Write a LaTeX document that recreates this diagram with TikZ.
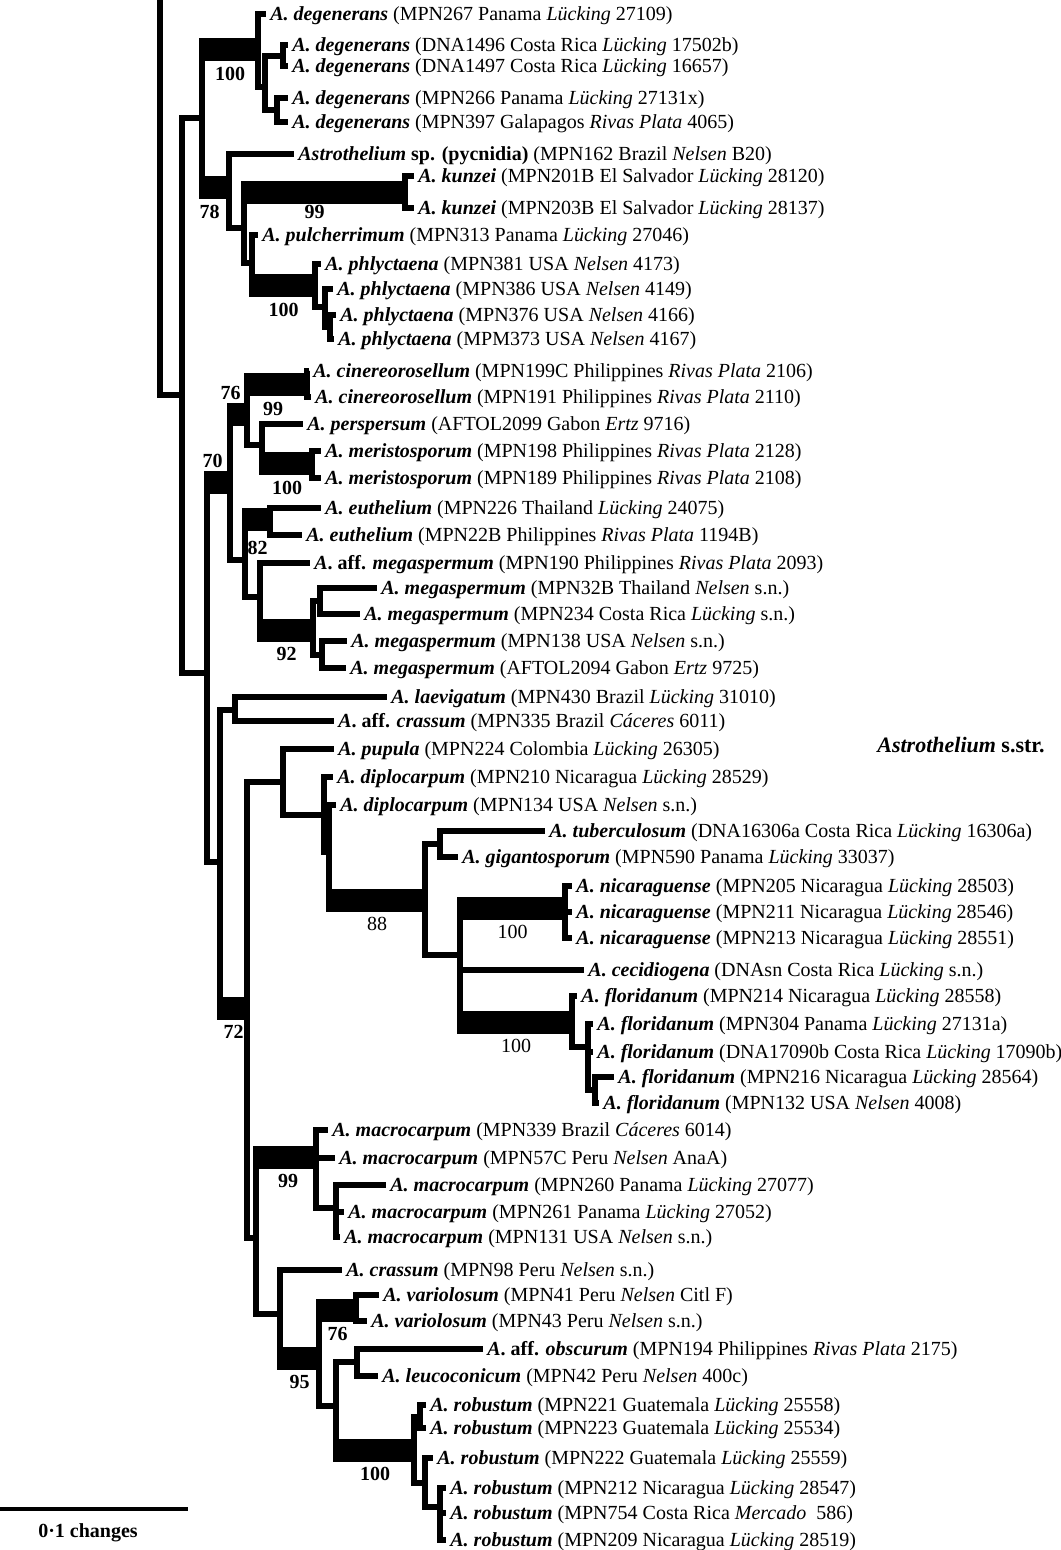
\documentclass[tikz,border=0pt]{standalone}
\usepackage{fontspec}
\setmainfont{Liberation Serif}
\usetikzlibrary{calc}

\begin{document}
\begin{tikzpicture}[x=0.5pt,y=-0.5pt]
			\newcommand{\taxn}[1]{\textbf{\textit{#1}}}
			\newcommand{\colr}[1]{\textit{#1}}
			\newcommand{\taxaff}[1]{\textbf{\textit{A}. aff. \textit{#1}}}
			\tikzset{
				br/.style={line width=2.8pt},
				bar/.style={line width=11.5pt, shorten <=-1.4pt},
				tip/.style={anchor=west, inner xsep=2pt, inner ysep=0pt, text height=0.9em, text depth=0.22em, font=\fontsize{10}{12}\selectfont},
				bs/.style={font=\bfseries\fontsize{10}{12}\selectfont, inner sep=0pt, yshift=-12pt},
				bsup/.style={bs, yshift=23pt},
				bsr/.style={bs, font=\fontsize{10}{12}\selectfont}
			}
			\useasboundingbox (0,0) rectangle (1060,1550);
			
			% inner nodes
			\coordinate (root) at (160,0);
			\coordinate (n1) at (182,395);
			\coordinate (a) at (202,118);
			\coordinate (d0) at (258,50);
			\coordinate (d1) at (265,87);
			\coordinate (d2) at (283,56);
			\coordinate (d3) at (277,110);
			\coordinate (b78) at (229,188);
			\coordinate (k) at (244,228);
			\coordinate (kz) at (405,193);
			\coordinate (p) at (252,263);
			\coordinate (ph) at (315,286);
			\coordinate (ph2) at (325,307);
			\coordinate (ph3) at (330,327);
			\coordinate (n2) at (207,673);
			\coordinate (c70) at (230,483);
			\coordinate (c76) at (247,415);
			\coordinate (cin) at (307,385);
			\coordinate (pm) at (262,445);
			\coordinate (mer) at (312,464);
			\coordinate (c82p) at (245,560);
			\coordinate (c82) at (270,520);
			\coordinate (c92p) at (260,597);
			\coordinate (c92) at (313,630);
			\coordinate (mg1) at (320,601);
			\coordinate (mg2) at (322,655);
			\coordinate (n3) at (220,862);
			\coordinate (lc) at (235,710);
			\coordinate (n4) at (247,1008);
			\coordinate (pd) at (283,782);
			\coordinate (dd1) at (324,815);
			\coordinate (dd2) at (329,852);
			\coordinate (e) at (425,900);
			\coordinate (e1) at (440,844);
			\coordinate (f) at (460,955);
			\coordinate (nic) at (565,908);
			\coordinate (fl) at (572,1022);
			\coordinate (g2) at (588,1047);
			\coordinate (g3) at (595,1090);
			\coordinate (n5) at (256,1238);
			\coordinate (m) at (316,1157);
			\coordinate (m2) at (336,1208);
			\coordinate (q) at (280,1314);
			\coordinate (r) at (319,1358);
			\coordinate (v) at (356,1310);
			\coordinate (s) at (336,1406);
			\coordinate (tt) at (357,1362);
			\coordinate (u) at (414,1450);
			\coordinate (u1) at (420,1417);
			\coordinate (u2) at (425,1483);
			\coordinate (u3) at (440,1507);
			
			% tips
			\node[tip] (t1) at (266,14) {\taxn{A. degenerans} (MPN267 Panama \colr{Lücking} 27109)};
			\node[tip] (t2) at (288,45) {\taxn{A. degenerans} (DNA1496 Costa Rica \colr{Lücking} 17502b)};
			\node[tip] (t3) at (288,66) {\taxn{A. degenerans} (DNA1497 Costa Rica \colr{Lücking} 16657)};
			\node[tip] (t4) at (288,98) {\taxn{A. degenerans} (MPN266 Panama \colr{Lücking} 27131x)};
			\node[tip] (t5) at (288,122) {\taxn{A. degenerans} (MPN397 Galapagos \colr{Rivas Plata} 4065)};
			\node[tip] (t6) at (294,154) {\textbf{\textit{Astrothelium} sp. (pycnidia)} (MPN162 Brazil \colr{Nelsen} B20)};
			\node[tip] (t7) at (414,176) {\taxn{A. kunzei} (MPN201B El Salvador \colr{Lücking} 28120)};
			\node[tip] (t8) at (414,208) {\taxn{A. kunzei} (MPN203B El Salvador \colr{Lücking} 28137)};
			\node[tip] (t9) at (258,235) {\taxn{A. pulcherrimum} (MPN313 Panama \colr{Lücking} 27046)};
			\node[tip] (t10) at (321,264) {\taxn{A. phlyctaena} (MPN381 USA \colr{Nelsen} 4173)};
			\node[tip] (t11) at (333,289) {\taxn{A. phlyctaena} (MPN386 USA \colr{Nelsen} 4149)};
			\node[tip] (t12) at (336,315) {\taxn{A. phlyctaena} (MPN376 USA \colr{Nelsen} 4166)};
			\node[tip] (t13) at (334,339) {\taxn{A. phlyctaena} (MPM373 USA \colr{Nelsen} 4167)};
			\node[tip] (t14) at (309,371) {\taxn{A. cinereorosellum} (MPN199C Philippines \colr{Rivas Plata} 2106)};
			\node[tip] (t15) at (311,397) {\taxn{A. cinereorosellum} (MPN191 Philippines \colr{Rivas Plata} 2110)};
			\node[tip] (t16) at (303,424) {\taxn{A. perspersum} (AFTOL2099 Gabon \colr{Ertz} 9716)};
			\node[tip] (t17) at (321,451) {\taxn{A. meristosporum} (MPN198 Philippines \colr{Rivas Plata} 2128)};
			\node[tip] (t18) at (321,478) {\taxn{A. meristosporum} (MPN189 Philippines \colr{Rivas Plata} 2108)};
			\node[tip] (t19) at (321,508) {\taxn{A. euthelium} (MPN226 Thailand \colr{Lücking} 24075)};
			\node[tip] (t20) at (302,535) {\taxn{A. euthelium} (MPN22B Philippines \colr{Rivas Plata} 1194B)};
			\node[tip] (t21) at (310,563) {\taxaff{megaspermum} (MPN190 Philippines \colr{Rivas Plata} 2093)};
			\node[tip] (t22) at (377,588) {\taxn{A. megaspermum} (MPN32B Thailand \colr{Nelsen} s.n.)};
			\node[tip] (t23) at (360,614) {\taxn{A. megaspermum} (MPN234 Costa Rica \colr{Lücking} s.n.)};
			\node[tip] (t24) at (347,641) {\taxn{A. megaspermum} (MPN138 USA \colr{Nelsen} s.n.)};
			\node[tip] (t25) at (346,668) {\taxn{A. megaspermum} (AFTOL2094 Gabon \colr{Ertz} 9725)};
			\node[tip] (t26) at (387,697) {\taxn{A. laevigatum} (MPN430 Brazil \colr{Lücking} 31010)};
			\node[tip] (t27) at (334,721) {\taxaff{crassum} (MPN335 Brazil \colr{Cáceres} 6011)};
			\node[tip] (t28) at (334,749) {\taxn{A. pupula} (MPN224 Colombia \colr{Lücking} 26305)};
			\node[tip] (t29) at (333,777) {\taxn{A. diplocarpum} (MPN210 Nicaragua \colr{Lücking} 28529)};
			\node[tip] (t30) at (336,805) {\taxn{A. diplocarpum} (MPN134 USA \colr{Nelsen} s.n.)};
			\node[tip] (t31) at (545,831) {\taxn{A. tuberculosum} (DNA16306a Costa Rica \colr{Lücking} 16306a)};
			\node[tip] (t32) at (458,857) {\taxn{A. gigantosporum} (MPN590 Panama \colr{Lücking} 33037)};
			\node[tip] (t33) at (572,886) {\taxn{A. nicaraguense} (MPN205 Nicaragua \colr{Lücking} 28503)};
			\node[tip] (t34) at (572,912) {\taxn{A. nicaraguense} (MPN211 Nicaragua \colr{Lücking} 28546)};
			\node[tip] (t35) at (572,938) {\taxn{A. nicaraguense} (MPN213 Nicaragua \colr{Lücking} 28551)};
			\node[tip] (t36) at (584,970) {\taxn{A. cecidiogena} (DNAsn Costa Rica \colr{Lücking} s.n.)};
			\node[tip] (t37) at (577,996) {\taxn{A. floridanum} (MPN214 Nicaragua \colr{Lücking} 28558)};
			\node[tip] (t38) at (593,1024) {\taxn{A. floridanum} (MPN304 Panama \colr{Lücking} 27131a)};
			\node[tip] (t39) at (593,1052) {\taxn{A. floridanum} (DNA17090b Costa Rica \colr{Lücking} 17090b)};
			\node[tip] (t40) at (614,1077) {\taxn{A. floridanum} (MPN216 Nicaragua \colr{Lücking} 28564)};
			\node[tip] (t41) at (599,1103) {\taxn{A. floridanum} (MPN132 USA \colr{Nelsen} 4008)};
			\node[tip] (t42) at (328,1130) {\taxn{A. macrocarpum} (MPN339 Brazil \colr{Cáceres} 6014)};
			\node[tip] (t43) at (335,1158) {\taxn{A. macrocarpum} (MPN57C Peru \colr{Nelsen} AnaA)};
			\node[tip] (t44) at (386,1185) {\taxn{A. macrocarpum} (MPN260 Panama \colr{Lücking} 27077)};
			\node[tip] (t45) at (344,1212) {\taxn{A. macrocarpum} (MPN261 Panama \colr{Lücking} 27052)};
			\node[tip] (t46) at (340,1237) {\taxn{A. macrocarpum} (MPN131 USA \colr{Nelsen} s.n.)};
			\node[tip] (t47) at (342,1270) {\taxn{A. crassum} (MPN98 Peru \colr{Nelsen} s.n.)};
			\node[tip] (t48) at (379,1295) {\taxn{A. variolosum} (MPN41 Peru \colr{Nelsen} Citl F)};
			\node[tip] (t49) at (367,1321) {\taxn{A. variolosum} (MPN43 Peru \colr{Nelsen} s.n.)};
			\node[tip] (t50) at (483,1349) {\taxaff{obscurum} (MPN194 Philippines \colr{Rivas Plata} 2175)};
			\node[tip] (t51) at (378,1376) {\taxn{A. leucoconicum} (MPN42 Peru \colr{Nelsen} 400c)};
			\node[tip] (t52) at (426,1405) {\taxn{A. robustum} (MPN221 Guatemala \colr{Lücking} 25558)};
			\node[tip] (t53) at (426,1428) {\taxn{A. robustum} (MPN223 Guatemala \colr{Lücking} 25534)};
			\node[tip] (t54) at (433,1458) {\taxn{A. robustum} (MPN222 Guatemala \colr{Lücking} 25559)};
			\node[tip] (t55) at (446,1488) {\taxn{A. robustum} (MPN212 Nicaragua \colr{Lücking} 28547)};
			\node[tip] (t56) at (446,1513) {\taxn{A. robustum} (MPN754 Costa Rica \colr{Mercado}\ \ 586)};
			\node[tip] (t57) at (446,1540) {\taxn{A. robustum} (MPN209 Nicaragua \colr{Lücking} 28519)};
			
			% branches
			\foreach \p/\c in {root/n1, n1/a, n1/n2, a/d0, a/b78, d0/t1, d0/d1, d1/d2, d1/d3,
				d2/t2, d2/t3, d3/t4, d3/t5, b78/t6, b78/k, k/kz, k/p, kz/t7, kz/t8, p/t9, p/ph,
				ph/t10, ph/ph2, ph2/t11, ph2/ph3, ph3/t12, ph3/t13,
				n2/c70, n2/n3, c70/c76, c70/c82p, c76/cin, c76/pm, cin/t14, cin/t15, pm/t16, pm/mer,
				mer/t17, mer/t18, c82p/c82, c82p/c92p, c82/t19, c82/t20, c92p/t21, c92p/c92,
				c92/mg1, c92/mg2, mg1/t22, mg1/t23, mg2/t24, mg2/t25,
				n3/lc, n3/n4, lc/t26, lc/t27, n4/pd, n4/n5, pd/t28, pd/dd1, dd1/t29, dd1/dd2,
				dd2/t30, dd2/e, e/e1, e/f, e1/t31, e1/t32, f/nic, f/t36, f/fl, nic/t33, nic/t34,
				nic/t35, fl/t37, fl/g2, g2/t38, g2/t39, g2/g3, g3/t40, g3/t41,
				n5/m, n5/q, m/t42, m/t43, m/m2, m2/t44, m2/t45, m2/t46, q/t47, q/r, r/v, r/s,
				v/t48, v/t49, s/tt, s/u, tt/t50, tt/t51, u/u1, u/u2, u1/t52, u1/t53, u2/t54,
				u2/u3, u3/t55, u3/t56, u3/t57}
				\draw[br] (\p) |- (\c);
			
			% supported branches
			\draw[bar] (a |- d0) -- node[bs]{100} (d0);
			\draw[bar] (a |- b78) -- node[bs, xshift=-3pt]{78} (b78);
			\draw[bar] (k |- kz) -- node[bs, xshift=-5pt, yshift=2.5pt]{99} (kz);
			\draw[bar] (p |- ph) -- node[bs]{100} (ph);
			\draw[bar] (n2 |- c70) -- node[bsup, xshift=-3pt]{70} (c70);
			\draw[bar] (c70 |- c76) -- node[bsup, xshift=-4pt]{76} (c76);
			\draw[bar] (c76 |- cin) -- node[bs, xshift=-2pt]{99} (cin);
			\draw[bar] (pm |- mer) -- node[bs]{100} (mer);
			\draw[bar] (c82p |- c82) -- node[bs, yshift=-2pt]{82} (c82);
			\draw[bar] (c92p |- c92) -- node[bs]{92} (c92);
			\draw[bar] (n3 |- n4) -- node[bs]{72} (n4);
			\draw[bar] (dd2 |- e) -- node[bsr]{88} (e);
			\draw[bar] (f |- nic) -- node[bsr]{100} (nic);
			\draw[bar] (f |- fl) -- node[bsr]{100} (fl);
			\draw[bar] (n5 |- m) -- node[bs, xshift=1pt]{99} (m);
			\draw[bar] (q |- r) -- node[bs]{95} (r);
			\draw[bar] (r |- v) -- node[bs]{76} (v);
			\draw[bar] (s |- u) -- node[bs]{100} (u);
			
			\node[font=\bfseries\fontsize{11}{13}\selectfont] (sstr) at (961,745) {\textit{Astrothelium} s.str.};
			
			% scale bar
			\coordinate (sb0) at (0,1509);
			\coordinate (sb1) at (188,1509);
			\draw[line width=2.3pt] (sb0) -- node[below=3pt, font=\bfseries\fontsize{10}{12}\selectfont, xshift=-3pt]{0·1 changes} (sb1);
		
		\end{tikzpicture}
\end{document}
